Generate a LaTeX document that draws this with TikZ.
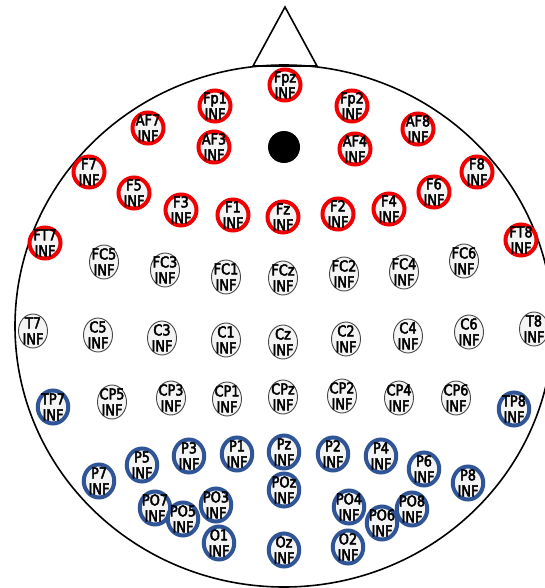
\documentclass[tikz,border=0pt]{standalone}
\usepackage{fontspec}
\newfontfamily\elfont[FakeStretch=0.86,FakeBold=3]{DejaVu Sans}
\usetikzlibrary{shapes.geometric}
\definecolor{elred}{RGB}{240,0,0}
\definecolor{elblue}{RGB}{47,85,151}
\definecolor{elfill}{RGB}{244,244,244}
\definecolor{elgrey}{RGB}{70,70,70}
\newcommand\elab[1]{\makebox[0pt]{\raisebox{-13.4pt}[0pt][0pt]{\begin{tabular}[b]{@{}c@{}}#1\\INF\end{tabular}}}}
\tikzset{
  elec/.style={inner sep=0pt, outer sep=0pt, fill=elfill, text=black,
    font=\elfont\fontsize{15}{16}\selectfont},
  redel/.style={elec, circle, draw=elred, line width=4pt, minimum size=31pt},
  blueel/.style={elec, ellipse, draw=elblue, line width=4pt, minimum width=30.5pt, minimum height=33pt},
  greyel/.style={elec, ellipse, draw=elgrey, line width=0.9pt, minimum width=29pt, minimum height=34pt},
  headline/.style={draw=black, line width=1.6pt}
}
\begin{document}
\begin{tikzpicture}[x=1pt,y=-1pt]
\useasboundingbox (0,0) rectangle (545,588);
\clip (0,0) rectangle (545,588);
% head and nose
\path[headline] (284,326) ellipse [x radius=269, y radius=261];
\path[headline] (253,66) -- (285,7) -- (317,66) -- cycle;
% central dot
\node[circle, fill=black, minimum size=32pt, inner sep=0pt] (dot) at (284,147) {};
% frontal (red)
\foreach \n/\x/\y in {Fpz/285/85, Fp1/215/106, Fp2/352/106, AF7/148/128, AF3/214/147,
  AF4/355/149, AF8/418/129, F7/89/172, F5/134/193, F3/181/210, F1/233/215, Fz/283/217,
  F2/338/214, F4/389/209, F6/434/192, F8/477/172, FT7/45/243, FT8/521/240}
  \node[redel] (\n) at (\x,\y) {\elab{\n}};
% central (grey)
\foreach \n/\x/\y in {FC5/104/262, FC3/165/270, FC1/226/277, FCz/283/278, FC2/344/274,
  FC4/404/272, FC6/464/261, T7/33/331, C5/98/335, C3/162/338, C1/226/340, Cz/283/342,
  C2/346/339, C4/408/336, C6/469/332, T8/534/329, CP5/112/402, CP3/171/398, CP1/227/399,
  CPz/283/397, CP2/342/396, CP4/399/398, CP6/456/398}
  \node[greyel] (\n) at (\x,\y) {\elab{\n}};
% posterior (blue)
\foreach \n/\x/\y in {TP7/53/407, TP8/514/409, P5/142/465, P3/189/456, P1/237/454,
  Pz/284/452, P2/333/454, P4/381/456, P6/424/469, P7/99/481, P8/468/483, POz/284/490,
  PO7/155/508, PO5/183/519, PO3/216/505, PO4/349/507, PO8/412/509, PO6/382/523,
  O1/219/543, Oz/284/550, O2/348/547}
  \node[blueel] (\n) at (\x,\y) {\elab{\n}};
\end{tikzpicture}
\end{document}
